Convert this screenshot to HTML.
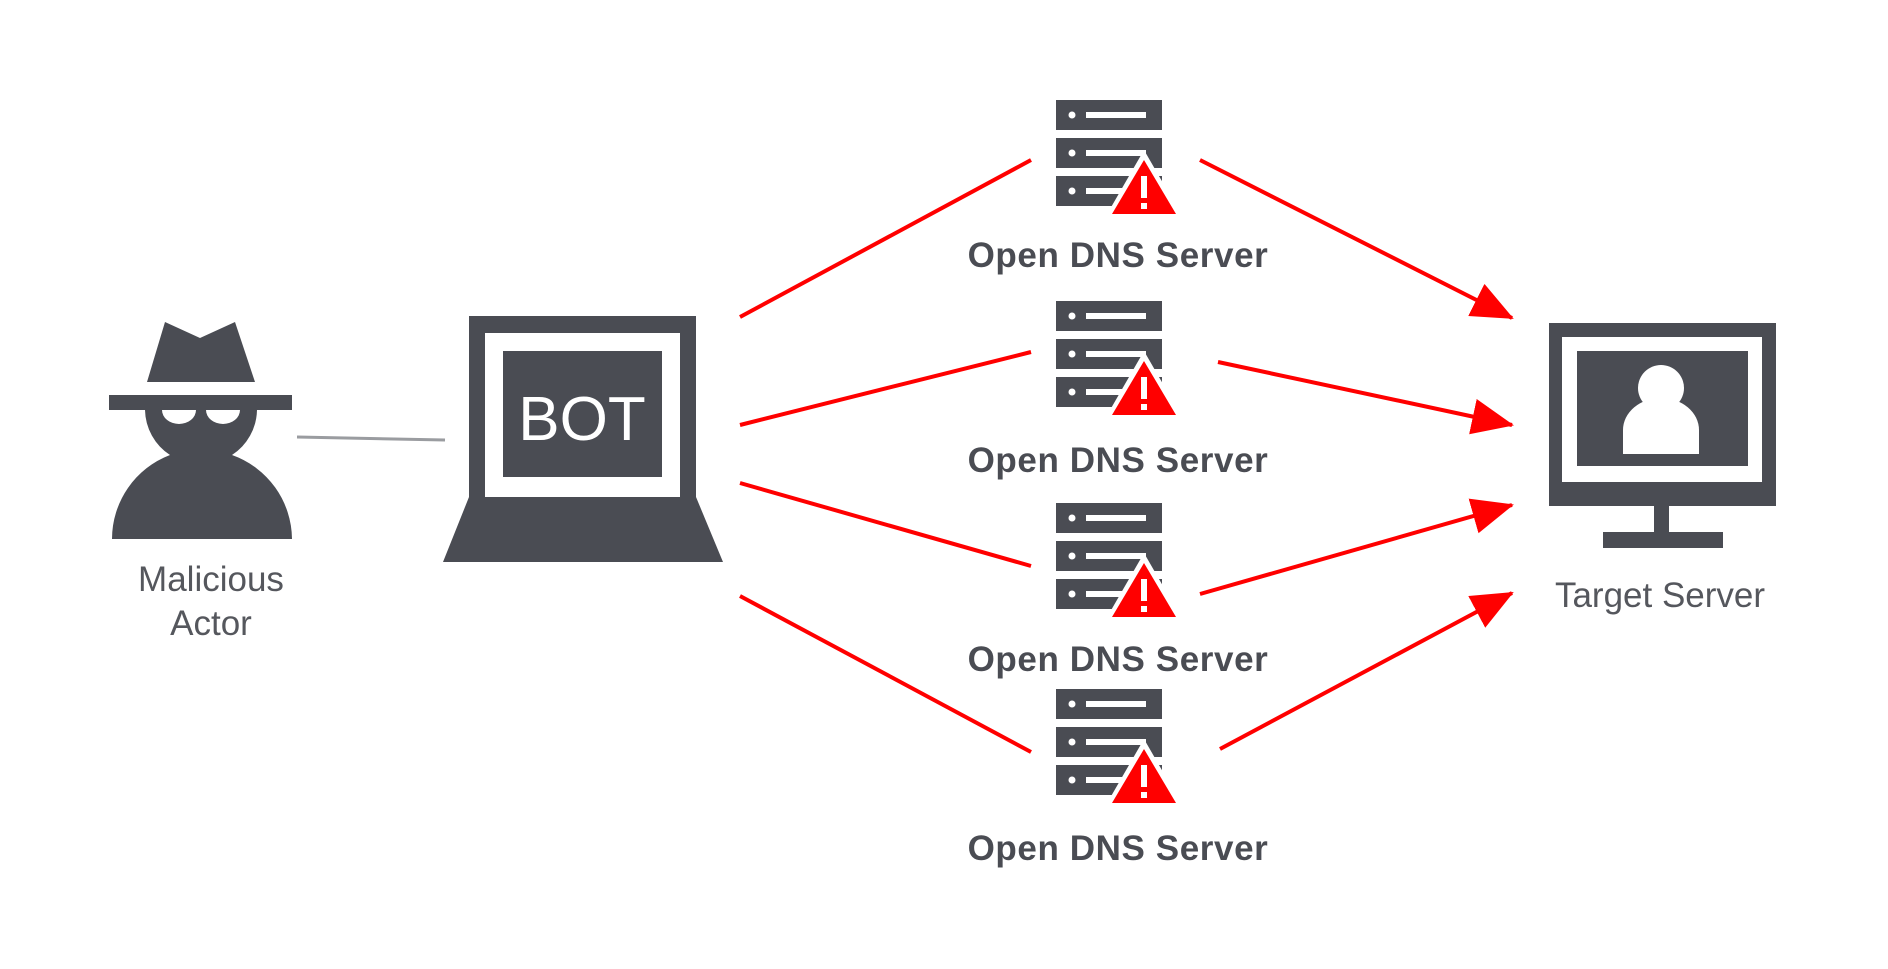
<!DOCTYPE html>
<html><head><meta charset="utf-8"><style>
html,body{margin:0;padding:0;background:#fff}
svg{display:block}
</style></head><body>
<svg width="1888" height="969" viewBox="0 0 1888 969" xmlns="http://www.w3.org/2000/svg">
<defs>
<marker id="ah" markerUnits="userSpaceOnUse" markerWidth="44" markerHeight="40" refX="40" refY="18" orient="auto">
<path d="M0,0 L42,18 L0,36 z" fill="#ff0000"/>
</marker>
<g id="srv">
<rect x="0" y="0" width="106" height="30" fill="#4a4c53"/>
<rect x="0" y="38" width="106" height="30" fill="#4a4c53"/>
<rect x="0" y="76" width="106" height="30" fill="#4a4c53"/>
<circle cx="16" cy="15" r="3.5" fill="#fff"/><rect x="30" y="12" width="60" height="6" fill="#fff"/>
<circle cx="16" cy="53" r="3.5" fill="#fff"/><rect x="30" y="50" width="60" height="6" fill="#fff"/>
<circle cx="16" cy="91" r="3.5" fill="#fff"/><rect x="30" y="88" width="60" height="6" fill="#fff"/>
<polygon points="88,50 126,116 50,116" fill="#fff"/>
<polygon points="88,60 120,114 56,114" fill="#ff0000"/>
<rect x="85" y="76" width="6" height="22" fill="#fff"/>
<rect x="85" y="103" width="6" height="6" fill="#fff"/>
</g>
</defs>
<g stroke="#ff0000" stroke-width="4" fill="none">
<line x1="740" y1="317" x2="1031" y2="160"/>
<line x1="740" y1="425" x2="1031" y2="352"/>
<line x1="740" y1="483" x2="1031" y2="566"/>
<line x1="740" y1="596" x2="1031" y2="752"/>
<line x1="1200" y1="160" x2="1512" y2="318" marker-end="url(#ah)"/>
<line x1="1218" y1="362" x2="1512" y2="425" marker-end="url(#ah)"/>
<line x1="1200" y1="594" x2="1512" y2="505" marker-end="url(#ah)"/>
<line x1="1220" y1="749" x2="1512" y2="593" marker-end="url(#ah)"/>
</g>
<line x1="297" y1="437" x2="445" y2="440" stroke="#9a9ca0" stroke-width="3"/>
<g fill="#4a4c53">
<polygon points="147,382 165,322 200,338 235,322 255,382"/>
<rect x="109" y="395" width="183" height="15"/>
<path d="M145,410 A55,55 0 0 0 170,455 A90,90 0 0 0 112,539 L292,539 A90,90 0 0 0 232,455 A55,55 0 0 0 257,410 Z"/>
</g>
<path d="M162,410 A17,14 0 0 0 196,410 Z" fill="#fff"/>
<path d="M206,410 A17,14 0 0 0 240,410 Z" fill="#fff"/>
<rect x="469" y="316" width="227" height="181" fill="#4a4c53"/>
<rect x="485" y="333" width="195" height="164" fill="#fff"/>
<rect x="503" y="351" width="159" height="126" fill="#4a4c53"/>
<polygon points="469,497 696,497 723,562 443,562" fill="#4a4c53"/>
<text x="582" y="440" text-anchor="middle" font-family="Liberation Sans, sans-serif" font-size="62" fill="#fff">BOT</text>
<use href="#srv" x="1056" y="100"/>
<use href="#srv" x="1056" y="301"/>
<use href="#srv" x="1056" y="503"/>
<use href="#srv" x="1056" y="689"/>
<rect x="1549" y="323" width="227" height="183" fill="#4a4c53"/>
<rect x="1562" y="337" width="200" height="145" fill="#fff"/>
<rect x="1577" y="351" width="171" height="115" fill="#4a4c53"/>
<circle cx="1661" cy="388" r="23" fill="#fff"/>
<path d="M1623,454 L1623,430 A38,32 0 0 1 1699,430 L1699,454 Z" fill="#fff"/>
<rect x="1654" y="506" width="15" height="28" fill="#4a4c53"/>
<rect x="1603" y="532" width="120" height="16" fill="#4a4c53"/>
<g font-family="Liberation Sans, sans-serif" fill="#4a4c53">
<g font-weight="bold" font-size="35" text-anchor="middle" letter-spacing="0.6">
<text x="1118" y="267">Open DNS Server</text>
<text x="1118" y="472">Open DNS Server</text>
<text x="1118" y="671">Open DNS Server</text>
<text x="1118" y="860">Open DNS Server</text>
</g>
<g font-size="35" text-anchor="middle" fill="#55575d">
<text x="211" y="591">Malicious</text>
<text x="211" y="635">Actor</text>
<text x="1660" y="607">Target Server</text>
</g>
</g>
</svg>
</body></html>
